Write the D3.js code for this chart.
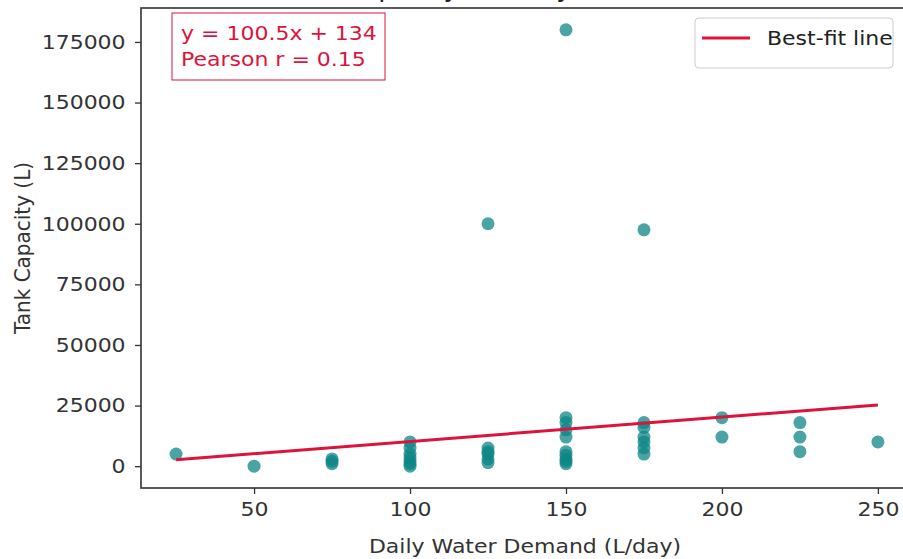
<!DOCTYPE html>
<html>
<head>
<meta charset="utf-8">
<script src="https://cdn.jsdelivr.net/npm/d3@7"></script>
<style>
  html, body { margin: 0; padding: 0; background: #fff; }
  svg { display: block; font-family: "DejaVu Sans", sans-serif; }
</style>
</head>
<body>
<svg id="chart" width="903" height="559"></svg>
<script>
// Daily water demand (L/day) for each household
const demand = [
  25, 50, 75, 75, 75,
  100, 100, 100, 100, 100, 100, 100,
  125, 125, 125, 125, 125, 125,
  150, 150, 150, 150, 150, 150, 150, 150, 150, 150,
  175, 175, 175, 175, 175, 175, 175,
  200, 200, 225, 225, 225, 250
];
// Installed tank capacity (L) for each household
const capacity = [
  5000, 0, 1000, 2000, 3000,
  0, 1000, 2000, 3500, 5000, 7500, 10000,
  100000, 1500, 3000, 5000, 6000, 7500,
  180000, 20000, 18000, 15000, 12000, 6000, 4500, 3000, 2000, 1000,
  97500, 18000, 16000, 12000, 10000, 7500, 5000,
  20000, 12000, 18000, 12000, 6000, 10000
];
// Regression summary
const slope = 100.5;
const intercept = 134;
const pearsonR = 0.15;
const xTicks = [50, 100, 150, 200, 250];
const yTicks = [0, 25000, 50000, 75000, 100000, 125000, 150000, 175000];

const svg = d3.select("#chart");
const plotLeft = 141, plotRight = 913, plotTop = 8, plotBottom = 488;
const fontSize = 20;
const stretch = "scale(1.1,1)";

const x = d3.scaleLinear().domain([13.75, 261.25]).range([plotLeft, plotRight]);
const y = d3.scaleLinear().domain([-9000, 189000]).range([plotBottom, plotTop]);

// Horizontal text helper: wide-set glyphs anchored at (px, py)
function label(parent, px, py, txt, opts = {}) {
  return parent.append("g")
    .attr("transform", `translate(${px},${py}) ${stretch}`)
    .append("text")
    .attr("text-anchor", opts.anchor || "start")
    .attr("font-size", opts.size || fontSize)
    .attr("fill", opts.color || "#333")
    .text(txt);
}

// Title
label(svg, (plotLeft + plotRight) / 2, -3, "Tank Capacity vs Daily Water Demand",
  { anchor: "middle", size: 24, color: "#222" });

// Scatter points
const pts = demand.map((d, i) => ({ x: d, y: capacity[i] }));
svg.append("g").selectAll("circle").data(pts).join("circle")
  .attr("cx", d => x(d.x)).attr("cy", d => y(d.y))
  .attr("r", 6.5)
  .attr("fill", "#0d8585").attr("fill-opacity", 0.75);

// Best-fit line over the observed demand range
const [xmin, xmax] = d3.extent(demand);
const fit = [xmin, xmax].map(v => ({ x: v, y: slope * v + intercept }));
svg.append("path")
  .datum(fit)
  .attr("d", d3.line().x(d => x(d.x)).y(d => y(d.y)))
  .attr("stroke", "#dc143c").attr("stroke-width", 3)
  .attr("fill", "none");

// Axes
const xAxis = d3.axisBottom(x).tickValues(xTicks).tickSize(6).tickPadding(8).tickFormat(d3.format("d"));
const yAxis = d3.axisLeft(y).tickValues(yTicks).tickSize(6).tickPadding(8).tickFormat(d3.format("d"));

const gx = svg.append("g").attr("transform", `translate(0,${plotBottom})`).call(xAxis);
const gy = svg.append("g").attr("transform", `translate(${plotLeft},0)`).call(yAxis);
[gx, gy].forEach(g => {
  g.select(".domain").remove();
  g.selectAll(".tick line").attr("stroke", "#333").attr("stroke-width", 1.3);
  g.selectAll(".tick text").attr("font-size", fontSize).attr("fill", "#333")
    .attr("font-family", "DejaVu Sans, sans-serif")
    .attr("transform", stretch);
});

// Frame
svg.append("rect")
  .attr("x", plotLeft).attr("y", plotTop)
  .attr("width", plotRight - plotLeft).attr("height", plotBottom - plotTop)
  .attr("fill", "none").attr("stroke", "#333").attr("stroke-width", 1.6);

// Axis labels
label(svg, (plotLeft + plotRight) / 2 - 2, 553, "Daily Water Demand (L/day)", { anchor: "middle" });
svg.append("g").attr("transform", "translate(30,248) scale(1.1,1) rotate(-90)")
  .append("text")
  .attr("text-anchor", "middle").attr("font-size", fontSize).attr("fill", "#333")
  .text("Tank Capacity (L)");

// Equation box
const eq = svg.append("g");
eq.append("rect")
  .attr("x", 172).attr("y", 13).attr("width", 213).attr("height", 67)
  .attr("fill", "#fff").attr("stroke", "#dc143c").attr("stroke-width", 1);
label(eq, 181, 40, `y = ${slope.toFixed(1)}x + ${intercept}`, { color: "#dc143c" });
label(eq, 181, 66, `Pearson r = ${pearsonR.toFixed(2)}`, { color: "#dc143c" });

// Legend
const lg = svg.append("g");
lg.append("rect")
  .attr("x", 695).attr("y", 18).attr("width", 198).attr("height", 50)
  .attr("rx", 4).attr("fill", "#fff").attr("fill-opacity", 0.8)
  .attr("stroke", "#ccc").attr("stroke-width", 1);
lg.append("line")
  .attr("x1", 702).attr("x2", 750).attr("y1", 38).attr("y2", 38)
  .attr("stroke", "#dc143c").attr("stroke-width", 3);
label(lg, 767, 45, "Best-fit line", { color: "#222" });
</script>
</body>
</html>
